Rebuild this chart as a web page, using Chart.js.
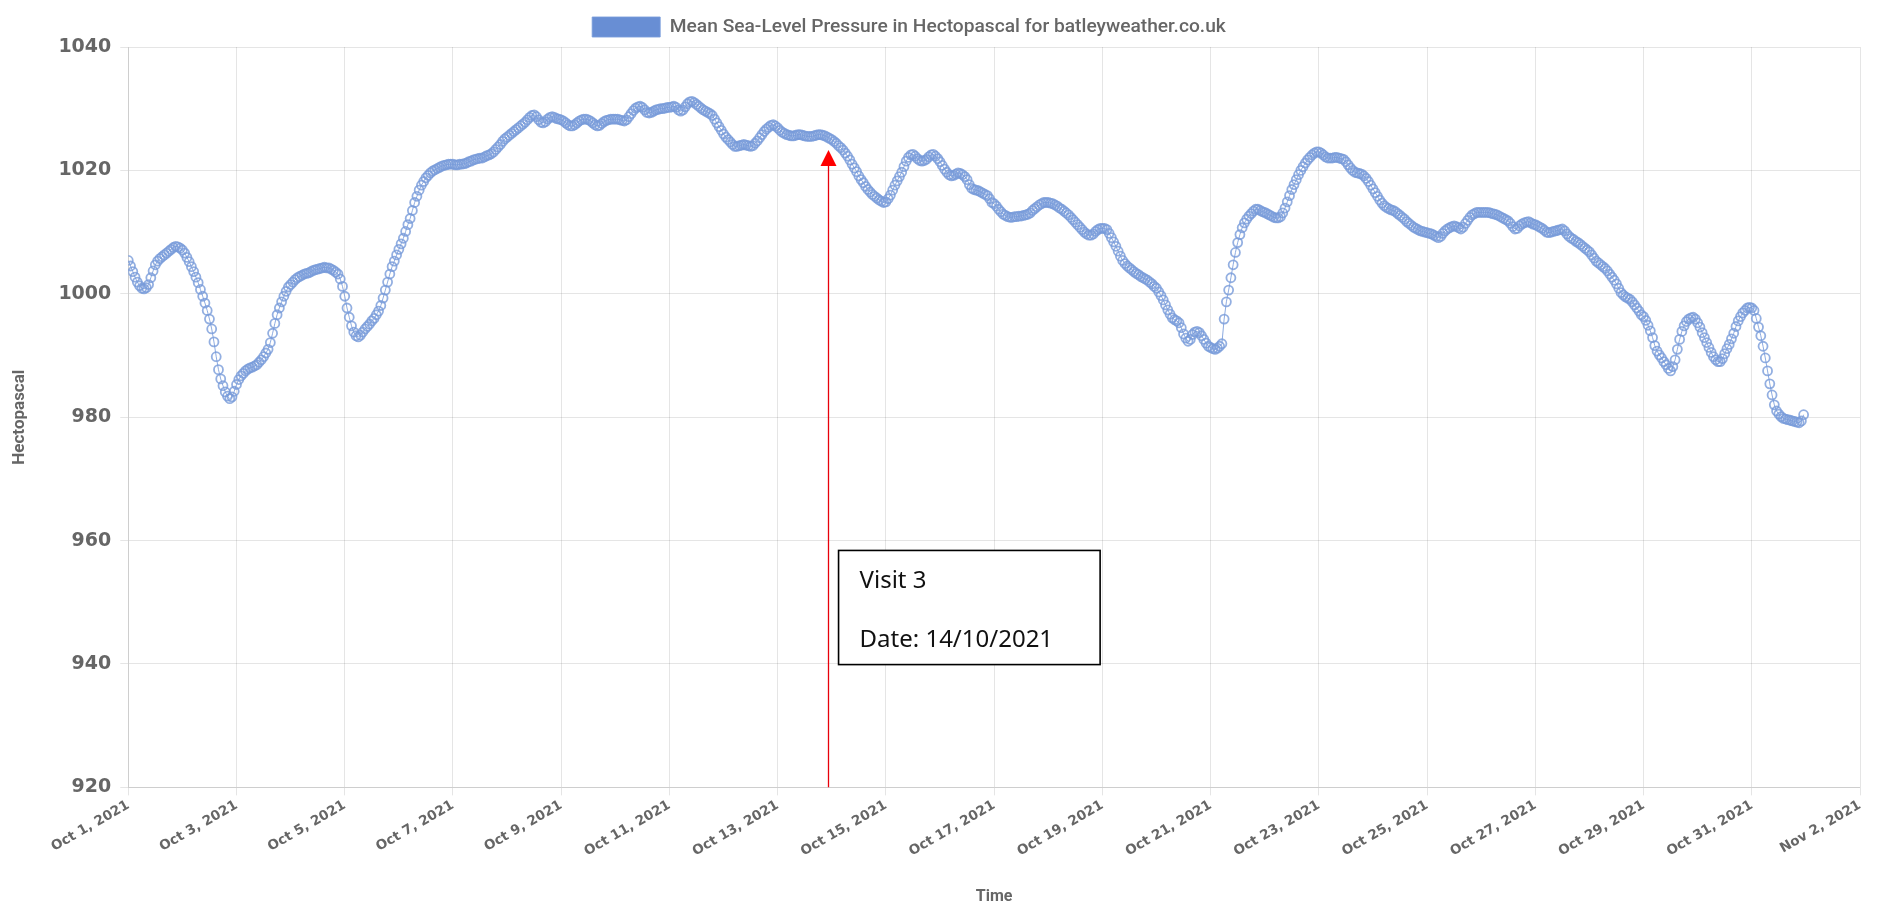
<!DOCTYPE html>
<html>
<head>
<meta charset="utf-8">
<title>Mean Sea-Level Pressure - batleyweather.co.uk</title>
<script src="https://cdn.jsdelivr.net/npm/chart.js@4.4.0/dist/chart.umd.min.js"></script>
<style>
  html, body { margin: 0; padding: 0; background: #fff; }
  #wrap { position: relative; width: 1878px; height: 909px; }
</style>
</head>
<body>
<div id="wrap"><canvas id="chart"></canvas></div>
<script>
// x ticks every 48 hours from Oct 1, 2021 00:00
const tickLabels = [
  'Oct 1, 2021', 'Oct 3, 2021', 'Oct 5, 2021', 'Oct 7, 2021', 'Oct 9, 2021',
  'Oct 11, 2021', 'Oct 13, 2021', 'Oct 15, 2021', 'Oct 17, 2021', 'Oct 19, 2021',
  'Oct 21, 2021', 'Oct 23, 2021', 'Oct 25, 2021', 'Oct 27, 2021', 'Oct 29, 2021',
  'Oct 31, 2021', 'Nov 2, 2021'
];

const seriesLabel = 'Mean Sea-Level Pressure in Hectopascal for batleyweather.co.uk';

// hourly readings (hPa), one row per day, starting Oct 1 00:00
const pressure = [
  1005.4, 1004.5, 1003.6, 1002.7, 1001.9, 1001.3, 1000.9, 1000.8, 1001.0, 1001.5, 1002.6, 1003.7, 1004.7, 1005.3, 1005.7, 1006.0, 1006.3, 1006.6, 1006.9, 1007.2, 1007.5, 1007.7, 1007.6, 1007.4,
  1007.1, 1006.6, 1005.9, 1005.2, 1004.4, 1003.6, 1002.7, 1001.8, 1000.7, 999.6, 998.5, 997.3, 995.9, 994.3, 992.2, 989.8, 987.7, 986.2, 985.1, 984.1, 983.4, 983.0, 983.3, 984.2,
  985.3, 986.1, 986.7, 987.1, 987.5, 987.8, 988.0, 988.1, 988.3, 988.5, 988.9, 989.3, 989.8, 990.4, 991.0, 992.1, 993.6, 995.2, 996.6, 997.7, 998.7, 999.6, 1000.4, 1001.1,
  1001.5, 1001.9, 1002.3, 1002.6, 1002.8, 1003.0, 1003.2, 1003.3, 1003.4, 1003.6, 1003.8, 1003.9, 1004.0, 1004.1, 1004.2, 1004.3, 1004.2, 1004.2, 1004.0, 1003.8, 1003.5, 1003.2, 1002.4, 1001.2,
  999.6, 997.7, 996.2, 994.8, 993.8, 993.2, 993.0, 993.3, 993.8, 994.3, 994.7, 995.1, 995.6, 996.0, 996.6, 997.2, 998.1, 999.3, 1000.6, 1001.9, 1003.2, 1004.4, 1005.3, 1006.3,
  1007.2, 1008.1, 1009.0, 1010.1, 1011.2, 1012.2, 1013.5, 1014.8, 1015.8, 1016.8, 1017.6, 1018.2, 1018.8, 1019.2, 1019.6, 1019.9, 1020.1, 1020.3, 1020.5, 1020.7, 1020.8, 1020.9, 1021.0, 1021.0,
  1021.0, 1020.9, 1020.9, 1021.0, 1021.0, 1021.1, 1021.2, 1021.4, 1021.5, 1021.7, 1021.8, 1021.9, 1022.0, 1022.0, 1022.2, 1022.4, 1022.5, 1022.7, 1023.0, 1023.4, 1023.8, 1024.2, 1024.7, 1025.1,
  1025.4, 1025.7, 1026.0, 1026.3, 1026.6, 1026.9, 1027.2, 1027.5, 1027.8, 1028.2, 1028.6, 1028.9, 1029.0, 1028.7, 1028.2, 1027.8, 1027.7, 1027.9, 1028.3, 1028.6, 1028.7, 1028.6, 1028.4, 1028.3,
  1028.2, 1028.0, 1027.7, 1027.4, 1027.2, 1027.2, 1027.4, 1027.7, 1028.0, 1028.2, 1028.3, 1028.3, 1028.2, 1028.0, 1027.7, 1027.4, 1027.2, 1027.3, 1027.6, 1027.9, 1028.1, 1028.2, 1028.3, 1028.3,
  1028.3, 1028.3, 1028.2, 1028.1, 1028.0, 1028.2, 1028.7, 1029.2, 1029.7, 1030.1, 1030.3, 1030.4, 1030.2, 1029.8, 1029.4, 1029.3, 1029.4, 1029.6, 1029.8, 1029.9, 1030.0, 1030.0, 1030.1, 1030.2,
  1030.2, 1030.3, 1030.4, 1030.2, 1029.8, 1029.6, 1029.8, 1030.3, 1030.8, 1031.1, 1031.2, 1031.0, 1030.7, 1030.4, 1030.1, 1029.8, 1029.6, 1029.4, 1029.2, 1028.9, 1028.3, 1027.7, 1027.1, 1026.5,
  1025.9, 1025.4, 1025.0, 1024.6, 1024.2, 1023.9, 1023.9, 1024.0, 1024.1, 1024.2, 1024.1, 1024.0, 1023.9, 1024.0, 1024.4, 1024.8, 1025.3, 1025.8, 1026.3, 1026.7, 1027.0, 1027.3, 1027.4, 1027.2,
  1026.9, 1026.5, 1026.2, 1026.0, 1025.8, 1025.7, 1025.6, 1025.6, 1025.7, 1025.8, 1025.8, 1025.7, 1025.6, 1025.5, 1025.5, 1025.5, 1025.6, 1025.7, 1025.8, 1025.8, 1025.7, 1025.6, 1025.4, 1025.2,
  1025.0, 1024.7, 1024.4, 1024.0, 1023.7, 1023.3, 1022.8, 1022.3, 1021.7, 1021.0, 1020.4, 1019.8, 1019.1, 1018.5, 1018.0, 1017.4, 1016.9, 1016.5, 1016.1, 1015.8, 1015.5, 1015.2, 1015.0, 1014.8,
  1014.9, 1015.4, 1016.0, 1016.8, 1017.6, 1018.3, 1019.0, 1019.7, 1020.6, 1021.5, 1022.1, 1022.5, 1022.6, 1022.3, 1021.9, 1021.6, 1021.5, 1021.6, 1021.8, 1022.2, 1022.5, 1022.6, 1022.3, 1021.9,
  1021.4, 1020.8, 1020.2, 1019.7, 1019.3, 1019.1, 1019.2, 1019.4, 1019.6, 1019.5, 1019.3, 1019.0, 1018.5, 1017.7, 1017.1, 1016.9, 1016.8, 1016.7, 1016.5, 1016.3, 1016.1, 1015.9, 1015.4, 1014.8,
  1014.6, 1014.2, 1013.7, 1013.3, 1012.9, 1012.7, 1012.5, 1012.4, 1012.4, 1012.5, 1012.5, 1012.6, 1012.6, 1012.7, 1012.8, 1012.9, 1013.1, 1013.5, 1013.8, 1014.1, 1014.4, 1014.6, 1014.8, 1014.8,
  1014.8, 1014.7, 1014.6, 1014.4, 1014.2, 1013.9, 1013.7, 1013.4, 1013.1, 1012.8, 1012.4, 1012.0, 1011.6, 1011.2, 1010.8, 1010.4, 1010.0, 1009.7, 1009.5, 1009.5, 1009.7, 1010.1, 1010.4, 1010.6,
  1010.6, 1010.6, 1010.4, 1009.8, 1009.1, 1008.4, 1007.7, 1006.9, 1006.1, 1005.4, 1004.9, 1004.5, 1004.2, 1003.9, 1003.6, 1003.3, 1003.1, 1002.8, 1002.6, 1002.4, 1002.2, 1001.9, 1001.6, 1001.2,
  1000.9, 1000.3, 999.7, 999.0, 998.2, 997.4, 996.7, 996.1, 995.8, 995.6, 995.3, 994.5, 993.5, 992.8, 992.3, 992.6, 993.4, 993.8, 993.9, 993.7, 993.2, 992.6, 992.0, 991.5,
  991.3, 991.1, 991.0, 991.2, 991.5, 991.9, 995.9, 998.7, 1000.6, 1002.6, 1004.7, 1006.7, 1008.3, 1009.6, 1010.7, 1011.5, 1012.1, 1012.6, 1013.0, 1013.4, 1013.7, 1013.7, 1013.5, 1013.3,
  1013.2, 1013.0, 1012.8, 1012.6, 1012.4, 1012.3, 1012.3, 1012.5, 1013.1, 1013.9, 1014.9, 1015.9, 1016.9, 1017.7, 1018.5, 1019.3, 1020.0, 1020.6, 1021.2, 1021.7, 1022.1, 1022.5, 1022.8, 1023.0,
  1023.0, 1022.8, 1022.5, 1022.2, 1022.0, 1022.0, 1022.0, 1022.1, 1022.1, 1022.0, 1021.9, 1021.8, 1021.4, 1020.9, 1020.4, 1020.0, 1019.7, 1019.6, 1019.5, 1019.4, 1019.1, 1018.7, 1018.2, 1017.6,
  1017.0, 1016.4, 1015.8, 1015.2, 1014.7, 1014.3, 1014.0, 1013.8, 1013.6, 1013.5, 1013.3, 1013.0, 1012.7, 1012.4, 1012.1, 1011.7, 1011.4, 1011.1, 1010.8, 1010.6, 1010.4, 1010.2, 1010.1, 1010.0,
  1009.9, 1009.8, 1009.7, 1009.5, 1009.3, 1009.1, 1009.3, 1009.8, 1010.2, 1010.5, 1010.7, 1010.9, 1011.0, 1010.9, 1010.7, 1010.5, 1010.8, 1011.4, 1011.9, 1012.4, 1012.8, 1013.0, 1013.2, 1013.2,
  1013.2, 1013.2, 1013.2, 1013.2, 1013.1, 1013.0, 1012.9, 1012.8, 1012.6, 1012.4, 1012.2, 1012.0, 1011.8, 1011.4, 1010.9, 1010.5, 1010.6, 1011.0, 1011.3, 1011.5, 1011.6, 1011.7, 1011.5, 1011.3,
  1011.2, 1011.0, 1010.8, 1010.6, 1010.3, 1010.0, 1009.9, 1010.0, 1010.1, 1010.2, 1010.3, 1010.4, 1010.5, 1010.2, 1009.7, 1009.3, 1009.0, 1008.8, 1008.5, 1008.3, 1008.0, 1007.7, 1007.4, 1007.1,
  1006.8, 1006.3, 1005.8, 1005.3, 1005.0, 1004.7, 1004.4, 1004.1, 1003.7, 1003.2, 1002.7, 1002.2, 1001.6, 1000.9, 1000.2, 999.8, 999.5, 999.3, 999.1, 998.7, 998.2, 997.7, 997.2, 996.6,
  996.3, 995.7, 994.9, 994.0, 992.9, 991.6, 990.7, 990.1, 989.6, 989.0, 988.5, 987.9, 987.5, 988.2, 989.3, 991.0, 992.6, 993.9, 994.8, 995.5, 995.9, 996.1, 996.2, 995.9,
  995.3, 994.6, 993.7, 992.9, 992.1, 991.3, 990.5, 989.8, 989.3, 989.0, 989.0, 989.5, 990.3, 991.1, 991.8, 992.7, 993.6, 994.7, 995.6, 996.3, 996.9, 997.3, 997.7, 997.8,
  997.7, 997.3, 996.0, 994.6, 993.2, 991.5, 989.6, 987.5, 985.4, 983.6, 982.0, 981.0, 980.5, 980.1, 979.8, 979.7, 979.6, 979.5, 979.4, 979.3, 979.2, 979.1, 979.4, 980.4
];

// note added on top of the chart
const visitText = ['Visit 3', 'Date: 14/10/2021'];
const visitHour = 310.5;

const visitNote = {
  id: 'visitNote',
  afterDraw(chart) {
    const { ctx, chartArea, scales: { x, y } } = chart;
    const ax = Math.round(x.getPixelForValue(visitHour)) + 0.5;
    const tipY = y.getPixelForValue(1023.3);

    ctx.save();
    // red arrow
    ctx.strokeStyle = '#e8000b';
    ctx.fillStyle = '#ff0000';
    ctx.lineWidth = 1.3;
    ctx.beginPath();
    ctx.moveTo(ax, chartArea.bottom);
    ctx.lineTo(ax, tipY + 12);
    ctx.stroke();
    ctx.beginPath();
    ctx.moveTo(ax, tipY);
    ctx.lineTo(ax - 8, tipY + 16);
    ctx.lineTo(ax + 8, tipY + 16);
    ctx.closePath();
    ctx.fill();

    // text box
    const left = x.getPixelForValue(315);
    const right = x.getPixelForValue(431);
    const top = y.getPixelForValue(958.4);
    const bottom = y.getPixelForValue(939.9);
    ctx.fillStyle = '#fff';
    ctx.fillRect(left, top, right - left, bottom - top);
    ctx.strokeStyle = '#000';
    ctx.lineWidth = 1.6;
    ctx.strokeRect(left, top, right - left, bottom - top);
    ctx.fillStyle = '#111';
    ctx.font = '24px "Noto Sans"';
    ctx.textBaseline = 'alphabetic';
    ctx.fillText(visitText[0], left + 21, top + 38);
    ctx.fillText(visitText[1], left + 21, top + 97);
    ctx.restore();
  }
};

// the legend sits a little left of centre in the original
const legendShift = {
  id: 'legendShift',
  afterLayout(chart) {
    chart.legend.left -= 21;
    chart.legend.right -= 21;
  }
};

const ctx = document.getElementById('chart').getContext('2d');
const pressureChart = new Chart(ctx, {
  type: 'line',
  data: {
    datasets: [
      {
        label: seriesLabel,
        data: pressure.map((v, i) => ({ x: i, y: v })),
        backgroundColor: 'rgb(104, 142, 212)',
        borderColor: 'rgba(120, 155, 218, 0.85)',
        borderWidth: 1,
        pointBackgroundColor: 'rgba(255, 255, 255, 0)',
        pointBorderColor: 'rgba(120, 155, 218, 0.8)',
        pointBorderWidth: 1.8,
        pointRadius: 4.5,
        fill: false,
        tension: 0,
      },
    ],
  },
  options: {
    responsive: true,
    maintainAspectRatio: false,
    animation: false,
    layout: {
      padding: { top: 7, right: 18, left: 0, bottom: 0 },
    },
    plugins: {
      legend: {
        labels: {
          boxWidth: 68,
          boxHeight: 20,
          padding: 10,
          color: '#666',
          font: { family: 'Roboto', size: 19.2, weight: '500' },
        },
      },
      tooltip: { enabled: false },
    },
    scales: {
      x: {
        type: 'linear',
        min: 0,
        max: 768,
        grid: { color: 'rgba(0, 0, 0, 0.1)' },
        ticks: {
          stepSize: 48,
          autoSkip: false,
          maxRotation: 30,
          minRotation: 30,
          padding: 2,
          color: '#666',
          font: { family: 'DejaVu Sans', size: 13.5, weight: 'bold' },
          callback: (value) => tickLabels[value / 48],
        },
        title: {
          display: true,
          text: 'Time',
          color: '#666',
          padding: { top: 26, bottom: 2 },
          font: { family: 'Roboto', size: 16, weight: 'bold' },
        },
      },
      y: {
        min: 920,
        max: 1040,
        grid: { color: 'rgba(0, 0, 0, 0.1)' },
        ticks: {
          stepSize: 20,
          padding: 9,
          color: '#666',
          font: { family: 'DejaVu Sans', size: 19, weight: 'bold' },
          callback: (value) => String(value),
        },
        title: {
          display: true,
          text: 'Hectopascal',
          color: '#666',
          padding: { top: 10, bottom: 19 },
          font: { family: 'Roboto', size: 17, weight: 'bold' },
        },
      },
    },
  },
  plugins: [visitNote, legendShift],
});
</script>
</body>
</html>
